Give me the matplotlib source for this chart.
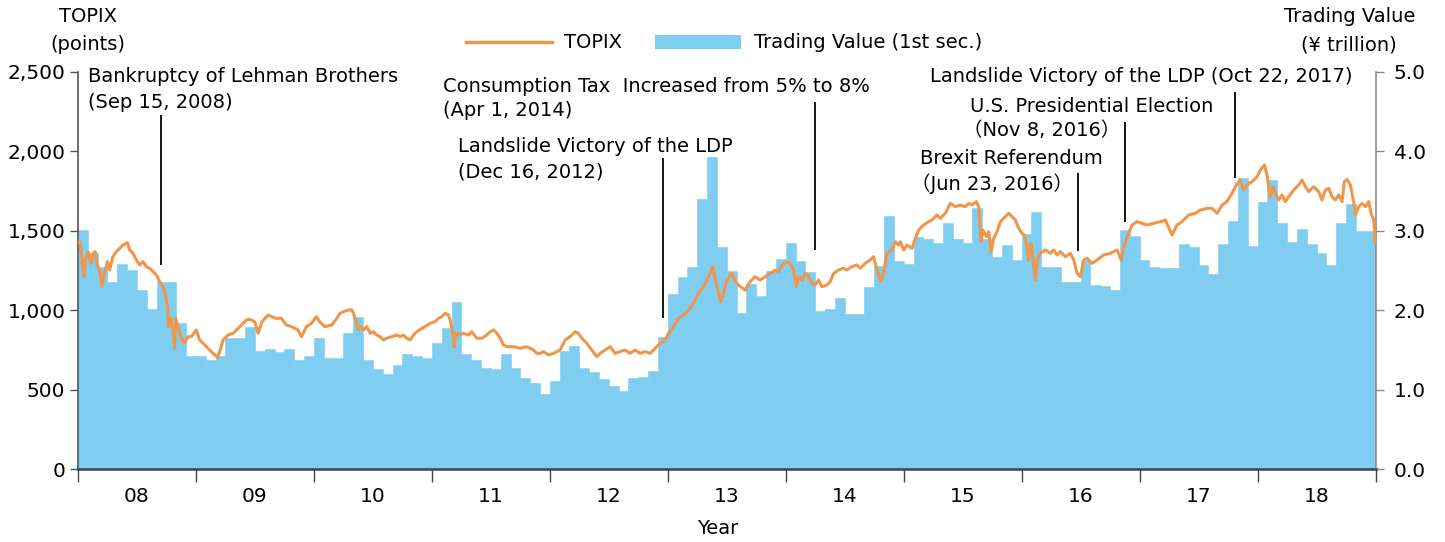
import numpy as np
import matplotlib
matplotlib.use("Agg")
import matplotlib.pyplot as plt
from matplotlib.ticker import FixedLocator, FuncFormatter
from matplotlib.lines import Line2D
from matplotlib.patches import Patch

plt.rcParams['font.family'] = ['DejaVu Sans', 'Noto Sans CJK JP']

# ---------------- data ----------------
# Monthly trading value, 1st section (¥ trillion), Jan 2008 .. Dec 2018
trading_value = [
    3.01, 2.72, 2.55, 2.35, 2.58, 2.51, 2.25, 2.01, 2.35, 2.35, 1.84, 1.42,   # 2008
    1.42, 1.37, 1.42, 1.65, 1.65, 1.79, 1.49, 1.51, 1.47, 1.51, 1.37, 1.42,   # 2009
    1.65, 1.40, 1.40, 1.71, 1.91, 1.37, 1.26, 1.20, 1.31, 1.45, 1.43, 1.40,   # 2010
    1.59, 1.78, 2.11, 1.45, 1.37, 1.28, 1.26, 1.45, 1.28, 1.15, 1.08, 0.95,   # 2011
    1.11, 1.49, 1.55, 1.28, 1.22, 1.13, 1.05, 0.98, 1.15, 1.16, 1.23, 1.66,   # 2012
    2.21, 2.42, 2.54, 3.40, 3.93, 2.80, 2.50, 1.97, 2.33, 2.18, 2.50, 2.64,   # 2013
    2.85, 2.62, 2.48, 1.99, 2.02, 2.16, 1.95, 1.95, 2.29, 2.56, 3.19, 2.62,   # 2014
    2.58, 2.92, 2.89, 2.85, 3.10, 2.89, 2.85, 3.29, 2.89, 2.67, 2.82, 2.63,   # 2015
    2.96, 3.23, 2.54, 2.54, 2.35, 2.35, 2.63, 2.32, 2.31, 2.26, 3.01, 2.93,   # 2016
    2.63, 2.54, 2.53, 2.53, 2.83, 2.79, 2.57, 2.46, 2.83, 3.12, 3.66, 2.81,   # 2017
    3.36, 3.64, 3.10, 2.86, 3.02, 2.83, 2.72, 2.57, 3.10, 3.33, 3.00, 3.00,   # 2018
]

# TOPIX (points); time given as months elapsed since 1 Jan 2008
topix_month = [
    # 2008
    0.0, 0.17, 0.34, 0.61, 0.75, 1.02, 1.29, 1.53, 1.76, 1.97,
    2.2, 2.44, 2.65, 2.99, 3.22, 3.56, 3.9, 4.24, 4.58, 5.02,
    5.26, 5.6, 5.94, 6.28, 6.61, 6.95, 7.29, 7.63, 7.97, 8.31,
    8.65, 8.89, 9.09, 9.23, 9.43, 9.67, 9.84, 9.94, 10.18, 10.52,
    10.85, 11.19, 11.53,
    # 2009
    12.04, 12.38, 12.72, 13.23, 13.74, 14.18, 14.42, 14.76, 15.26, 15.77,
    16.28, 16.79, 17.13, 17.47, 17.98, 18.32, 18.72, 19.34, 19.67, 20.18,
    20.69, 21.2, 21.71, 22.39, 22.73, 23.24, 23.75,
    # 2010
    24.25, 24.59, 25.1, 25.81, 26.32, 26.66, 27.00, 27.51, 27.85, 28.02,
    28.36, 28.53, 28.70, 29.04, 29.38, 29.72, 30.05, 30.39, 30.73, 31.07,
    31.41, 31.92, 32.43, 32.77, 33.11, 33.45, 33.79, 34.12, 34.46, 34.97,
    35.31, 35.82,
    # 2011
    36.33, 36.67, 37.01, 37.35, 37.69, 37.86, 38.20, 38.27, 38.37, 38.71,
    39.21, 39.72, 40.06, 40.57, 41.08, 41.59, 41.93, 42.27, 42.61, 42.95,
    43.28, 43.62, 44.30, 44.98, 45.66, 46.34, 46.68, 47.01, 47.35, 47.86,
    # 2012
    48.37, 49.05, 49.56, 50.07, 50.58, 50.92, 51.25, 51.76, 52.27, 52.78,
    53.12, 53.63, 54.14, 54.65, 55.16, 55.67, 56.17, 56.68, 57.19, 57.70,
    58.21, 58.72, 59.23, 59.73,
    # 2013
    60.07, 60.58, 61.09, 61.60, 62.10, 62.61, 63.12, 63.63, 64.14, 64.58,
    64.99, 65.40, 65.67, 66.01, 66.52, 66.86, 67.37, 67.87, 68.38, 68.89,
    69.40, 69.91, 70.42, 70.93, 71.27, 71.61,
    # 2014
    72.12, 72.46, 72.80, 73.07, 73.31, 73.65, 73.99, 74.33, 74.66, 75.00,
    75.34, 75.68, 76.19, 76.53, 76.87, 77.38, 77.88, 78.22, 78.73, 79.24,
    79.58, 80.09, 80.60, 80.94, 81.11, 81.45, 81.68, 81.95, 82.29, 82.80,
    83.14, 83.48, 83.66,
    # 2015
    84.0, 84.34, 84.85, 85.19, 85.53, 86.03, 86.54, 86.88, 87.39, 87.73,
    88.24, 88.75, 89.26, 89.77, 90.27, 90.61, 90.95, 91.39, 91.63, 91.87,
    92.07, 92.41, 92.65, 92.89, 93.16, 93.5, 93.84, 94.35, 94.68, 95.02,
    95.36, 95.7,
    # 2016
    96.04, 96.28, 96.55, 96.72, 96.96, 97.23, 97.4, 97.57, 97.91, 98.42,
    98.92, 99.26, 99.6, 99.94, 100.45, 100.96, 101.3, 101.64, 101.98, 102.32,
    102.66, 103.16, 103.67, 104.35, 105.03, 105.71, 106.12, 106.39, 106.73, 107.24,
    107.74,
    # 2017
    108.25, 108.75, 109.43, 110.11, 110.62, 111.30, 111.80, 112.31, 112.99, 113.67,
    114.18, 114.86, 115.37, 115.88, 116.39, 116.89, 117.40, 117.91, 118.25, 118.59,
    118.93, 119.44,
    # 2018
    119.95, 120.29, 120.70, 120.96, 121.30, 121.58, 121.82, 122.15, 122.49, 122.83,
    123.17, 123.68, 124.19, 124.53, 124.87, 125.21, 125.71, 126.22, 126.56, 126.90,
    127.24, 127.58, 127.92, 128.26, 128.60, 128.83, 129.10, 129.44, 129.78, 129.95,
    130.29, 130.63, 130.97, 131.31, 131.55, 131.82, 131.99,
]
topix_value = [
    # 2008
    1425, 1431, 1358, 1211, 1316, 1368, 1295, 1358, 1368, 1285,
    1253, 1148, 1222, 1306, 1253, 1337, 1368, 1389, 1410, 1425,
    1379, 1358, 1316, 1285, 1306, 1274, 1264, 1243, 1222, 1180,
    1148, 1096, 1023, 897, 949, 876, 761, 949, 897, 823,
    792, 834, 834,
    # 2009
    876, 813, 792, 761, 729, 704, 740, 813, 844, 855,
    886, 918, 939, 943, 928, 855, 928, 970, 960, 949,
    949, 907, 897, 876, 834, 897, 918,
    # 2010
    960, 928, 897, 907, 949, 981, 991, 1002, 1002, 981,
    918, 876, 897, 876, 897, 855, 865, 844, 834, 813,
    824, 834, 844, 834, 844, 824, 813, 844, 865, 886,
    897, 918,
    # 2011
    928, 949, 960, 981, 970, 939, 834, 771, 855, 844,
    855, 844, 865, 824, 824, 844, 865, 876, 855, 824,
    782, 771, 771, 761, 771, 750, 729, 729, 740, 719,
    # 2012
    729, 750, 813, 834, 865, 855, 824, 792, 750, 708,
    729, 750, 771, 729, 740, 750, 729, 750, 729, 740,
    729, 761, 792, 813,
    # 2013
    855, 897, 949, 970, 1002, 1044, 1106, 1148, 1211, 1274,
    1148, 1054, 1106, 1190, 1232, 1180, 1148, 1127, 1180, 1211,
    1190, 1211, 1232, 1253, 1243, 1285,
    # 2014
    1305, 1295, 1253, 1148, 1211, 1190, 1232, 1211, 1169, 1159,
    1190, 1148, 1159, 1180, 1232, 1253, 1264, 1253, 1274, 1285,
    1264, 1295, 1316, 1337, 1295, 1222, 1180, 1232, 1358, 1379,
    1431, 1410, 1431,
    # 2015
    1379, 1410, 1389, 1452, 1505, 1536, 1557, 1568, 1599, 1578,
    1610, 1672, 1651, 1662, 1651, 1672, 1662, 1683, 1651, 1431,
    1505, 1463, 1494, 1369, 1452, 1494, 1557, 1589, 1610, 1589,
    1568, 1515,
    # 2016
    1484, 1473, 1400, 1316, 1421, 1274, 1190, 1316, 1358, 1379,
    1358, 1379, 1348, 1369, 1337, 1358, 1316, 1232, 1211, 1316,
    1327, 1295, 1316, 1348, 1358, 1379, 1316, 1400, 1463, 1536,
    1557,
    # 2017
    1547, 1536, 1547, 1557, 1568, 1473, 1536, 1557, 1599, 1609,
    1630, 1641, 1641, 1609, 1662, 1683, 1735, 1795, 1819, 1756,
    1788, 1809,
    # 2018
    1840, 1882, 1913, 1851, 1714, 1777, 1735, 1693, 1725, 1683,
    1714, 1756, 1788, 1819, 1777, 1746, 1777, 1746, 1693, 1756,
    1767, 1714, 1693, 1725, 1683, 1809, 1823, 1788, 1683, 1599,
    1651, 1672, 1651, 1683, 1609, 1568, 1421,
]

year_labels = ['08', '09', '10', '11', '12', '13', '14', '15', '16', '17', '18']

# ---------------- figure ----------------
W, H = 1445, 542
fig = plt.figure(figsize=(W / 100, H / 100), dpi=100)

def fx(px):
    return px / W

def fy(py):
    return 1 - py / H

x0, x1, ytop, ybot = 78, 1375.5, 71.7, 469.3
rect = [fx(x0), fy(ybot), fx(x1) - fx(x0), (ybot - ytop) / H]

BAR_C = '#7FCDF1'
LINE_C = '#F0964B'

ax_bar = fig.add_axes(rect)
months = np.arange(len(trading_value))
ax_bar.bar(months + 0.5, trading_value, width=1.0, color=BAR_C,
           edgecolor=BAR_C, linewidth=0.4, zorder=1)
ax_bar.set_ylim(0, 5.0)
ax_bar.set_xlim(0, len(trading_value))

ax_line = ax_bar.twinx()
ax_line.plot(topix_month, topix_value, color=LINE_C, lw=2.2, zorder=3,
             solid_joinstyle='round')
ax_line.set_ylim(0, 2500)

ax_line.yaxis.set_ticks_position('left')
ax_bar.yaxis.set_ticks_position('right')

for s in ax_bar.spines.values():
    s.set_visible(False)
ax_line.spines['top'].set_visible(False)
ax_line.spines['left'].set_color('#555555')
ax_line.spines['right'].set_color('#8a8a8a')
ax_line.spines['bottom'].set_color('#3c4650')
ax_line.spines['left'].set_linewidth(1.2)
ax_line.spines['right'].set_linewidth(1.2)
ax_line.spines['bottom'].set_linewidth(1.8)

TICK_FS = 14.5
ax_line.set_yticks([0, 500, 1000, 1500, 2000, 2500])
ax_line.yaxis.set_major_formatter(FuncFormatter(lambda v, p: f"{int(v):,}"))
ax_line.tick_params(axis='y', direction='out', length=6, width=1.0,
                    color='#555555', labelsize=TICK_FS, pad=3)

ax_bar.set_yticks([0, 1, 2, 3, 4, 5])
ax_bar.yaxis.set_major_formatter(FuncFormatter(lambda v, p: f"{v:.1f}"))
ax_bar.tick_params(axis='y', direction='out', length=6, width=1.0,
                   color='#8a8a8a', labelsize=TICK_FS, pad=7)

ax_bar.xaxis.set_major_locator(FixedLocator(np.arange(0, len(trading_value) + 1, 12)))
ax_bar.xaxis.set_minor_locator(FixedLocator(np.arange(6, len(trading_value), 12)))
ax_bar.xaxis.set_major_formatter(FuncFormatter(lambda v, p: ''))
ax_bar.set_xticklabels(year_labels, minor=True)
ax_bar.tick_params(axis='x', which='major', direction='out', length=9, width=1.0,
                   color='#444444')
ax_bar.tick_params(axis='x', which='minor', length=0, labelsize=TICK_FS, pad=13)

# ---------------- annotations ----------------
ANN_FS = 14.0
ev_lines = [
    (8.47, 1285, 2228),
    (59.5, 951, 1957),
    (75.0, 1379, 2310),
    (101.73, 1374, 1865),
    (106.5, 1553, 2186),
    (117.68, 1830, 2374),
]
for xm, yb, yt in ev_lines:
    ax_line.plot([xm, xm], [yb, yt], color='black', lw=1.3, zorder=4,
                 solid_capstyle='butt', clip_on=False)

texts = [
    ("Bankruptcy of Lehman Brothers", 88, 77),
    ("(Sep 15, 2008)", 88, 102),
    ("Consumption Tax  Increased from 5% to 8%", 443, 86),
    ("(Apr 1, 2014)", 443, 110),
    ("Landslide Victory of the LDP", 458, 147),
    ("(Dec 16, 2012)", 458, 172),
    ("Landslide Victory of the LDP (Oct 22, 2017)", 930, 77),
    ("U.S. Presidential Election", 970, 106),
    ("（Nov 8, 2016）", 963, 131),
    ("Brexit Referendum", 920, 158),
    ("（Jun 23, 2016）", 911, 184),
]
for s, px, py in texts:
    fig.text(fx(px), fy(py), s, ha='left', va='center', fontsize=ANN_FS,
             color='black')

TITLE_FS = 14
fig.text(fx(88), fy(17), "TOPIX", ha='center', va='center', fontsize=TITLE_FS)
fig.text(fx(88), fy(44), "(points)", ha='center', va='center', fontsize=TITLE_FS)
fig.text(fx(1350), fy(17), "Trading Value", ha='center', va='center', fontsize=TITLE_FS)
fig.text(fx(1349), fy(45), "(¥ trillion)", ha='center', va='center', fontsize=TITLE_FS)
fig.text(fx(718), fy(528), "Year", ha='center', va='center', fontsize=TITLE_FS)

handles = [Line2D([], [], color=LINE_C, lw=2.5),
           Patch(facecolor=BAR_C, edgecolor='none')]
fig.legend(handles, ["TOPIX", "Trading Value (1st sec.)"], loc='center',
           bbox_to_anchor=(fx(724), fy(43)), ncol=2, frameon=False,
           fontsize=TITLE_FS, handlelength=4.4, handleheight=0.7,
           handletextpad=0.65, columnspacing=1.7, borderpad=0, borderaxespad=0)

fig.savefig("out.png", dpi=100)
